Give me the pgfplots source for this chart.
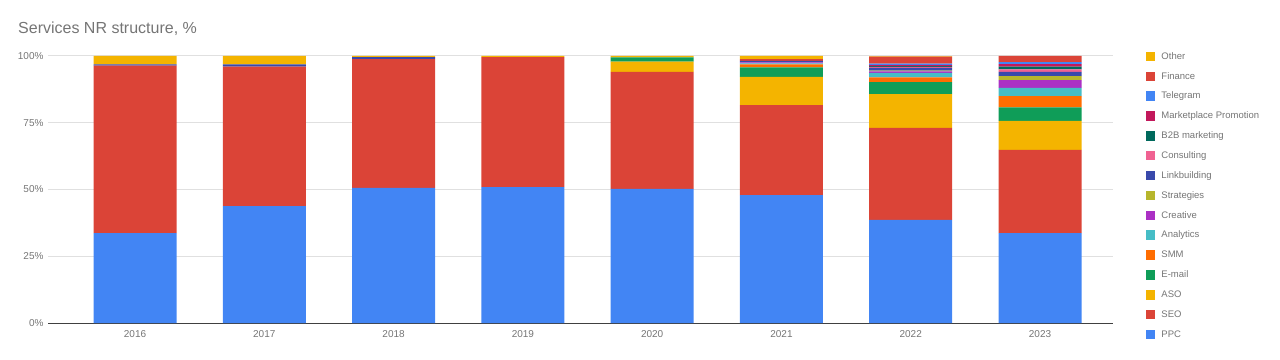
\documentclass[border=0pt]{standalone}
\usepackage{pgfplots}
\pgfplotsset{compat=1.18}
\usepackage{fontspec}
\setmainfont{Liberation Sans}
\definecolor{cPPC}{HTML}{4285F4}
\definecolor{cSEO}{HTML}{DB4437}
\definecolor{cASO}{HTML}{F4B400}
\definecolor{cEmail}{HTML}{0F9D58}
\definecolor{cSMM}{HTML}{FF6D01}
\definecolor{cAna}{HTML}{46BDC6}
\definecolor{cCre}{HTML}{AB30C4}
\definecolor{cStr}{HTML}{B7B62C}
\definecolor{cLink}{HTML}{3949AB}
\definecolor{cCons}{HTML}{F06292}
\definecolor{cB2B}{HTML}{00695C}
\definecolor{cMkt}{HTML}{C2185B}
\definecolor{cTel}{HTML}{4285F4}
\definecolor{cFin}{HTML}{DB4437}
\definecolor{cOth}{HTML}{F4B400}
\definecolor{txt}{HTML}{757575}
\definecolor{grd}{HTML}{E0E0E0}
\begin{document}
\begin{tikzpicture}[x=1pt,y=1pt]
\useasboundingbox (0,0) rectangle (1280,359);
\node[anchor=west,text=txt,font=\fontsize{16}{19}\selectfont,inner sep=0pt] at (18,330) {Services NR structure, \%};
\begin{axis}[
  at={(48pt,36pt)}, anchor=south west,
  scale only axis, width=1065pt, height=267pt,
  ybar stacked, bar width=83pt,
  xmin=-0.673, xmax=7.564, ymin=0, ymax=100,
  xtick={0,...,7},
  xticklabels={2016,2017,2018,2019,2020,2021,2022,2023},
  ytick={0,25,50,75,100},
  yticklabel={\pgfmathprintnumber{\tick}\%},
  /pgf/number format/assume math mode=true,
  major tick length=0pt,
  ymajorgrids, grid style={grd, line width=1pt},
  axis x line*=bottom, axis y line*=left,
  y axis line style={draw=none},
  x axis line style={draw=black!75, line width=1pt, -},
  tick label style={text=txt, font=\fontsize{10}{12}\selectfont},
  xticklabel style={yshift=-4pt},
  yticklabel style={xshift=-1pt},
  reverse legend,
  legend cell align=left,
  legend style={draw=none, fill=none, at={(1.028,1.030)}, anchor=north west,
    font=\fontsize{9.5}{11}\selectfont, text=txt, row sep=6.86pt,
    nodes={inner sep=2pt, text height=7pt, text depth=2pt},
    /tikz/every odd column/.append style={column sep=4pt}},
  legend image code/.code={\fill[#1] (0pt,-4.5pt) rectangle (9.5pt,5pt);},
  every axis plot/.append style={draw=none},
]
\addplot[fill=cPPC] coordinates {(0,33.7)(1,43.8)(2,50.6)(3,50.9)(4,50.2)(5,47.9)(6,38.6)(7,33.7)};
\addlegendentry{PPC}
\addplot[fill=cSEO] coordinates {(0,62.7)(1,52.2)(2,48.2)(3,48.7)(4,43.9)(5,33.7)(6,34.5)(7,31.1)};
\addlegendentry{SEO}
\addplot[fill=cASO] coordinates {(0,0)(1,0)(2,0)(3,0)(4,3.75)(5,10.6)(6,12.6)(7,10.9)};
\addlegendentry{ASO}
\addplot[fill=cEmail] coordinates {(0,0)(1,0)(2,0)(3,0)(4,1.6)(5,3.5)(6,4.5)(7,5.1)};
\addlegendentry{E-mail}
\addplot[fill=cSMM] coordinates {(0,0)(1,0)(2,0)(3,0)(4,0)(5,1.2)(6,1.75)(7,4.2)};
\addlegendentry{SMM}
\addplot[fill=cAna] coordinates {(0,0)(1,0)(2,0)(3,0)(4,0)(5,0.3)(6,1.7)(7,3.1)};
\addlegendentry{Analytics}
\addplot[fill=cCre] coordinates {(0,0)(1,0)(2,0)(3,0)(4,0)(5,0.4)(6,0.6)(7,2.9)};
\addlegendentry{Creative}
\addplot[fill=cStr] coordinates {(0,0)(1,0)(2,0)(3,0)(4,0)(5,0)(6,0.3)(7,1.5)};
\addlegendentry{Strategies}
\addplot[fill=cLink] coordinates {(0,0.5)(1,0.9)(2,0.75)(3,0)(4,0)(5,0.6)(6,1.0)(7,1.6)};
\addlegendentry{Linkbuilding}
\addplot[fill=cCons] coordinates {(0,0)(1,0)(2,0)(3,0)(4,0)(5,0)(6,0.4)(7,0.9)};
\addlegendentry{Consulting}
\addplot[fill=cB2B] coordinates {(0,0)(1,0)(2,0)(3,0)(4,0)(5,0)(6,0.3)(7,1.0)};
\addlegendentry{B2B marketing}
\addplot[fill=cMkt] coordinates {(0,0)(1,0)(2,0)(3,0)(4,0)(5,0)(6,0.3)(7,1.0)};
\addlegendentry{Marketplace Promotion}
\addplot[fill=cTel] coordinates {(0,0)(1,0)(2,0)(3,0)(4,0)(5,0)(6,0.6)(7,0.75)};
\addlegendentry{Telegram}
\addplot[fill=cFin] coordinates {(0,0)(1,0)(2,0)(3,0)(4,0)(5,0.6)(6,2.6)(7,2.25)};
\addlegendentry{Finance}
\addplot[fill=cOth] coordinates {(0,3.1)(1,3.1)(2,0.45)(3,0.4)(4,0.55)(5,1.2)(6,0.2)(7,0)};
\addlegendentry{Other}
\end{axis}
\end{tikzpicture}
\end{document}
